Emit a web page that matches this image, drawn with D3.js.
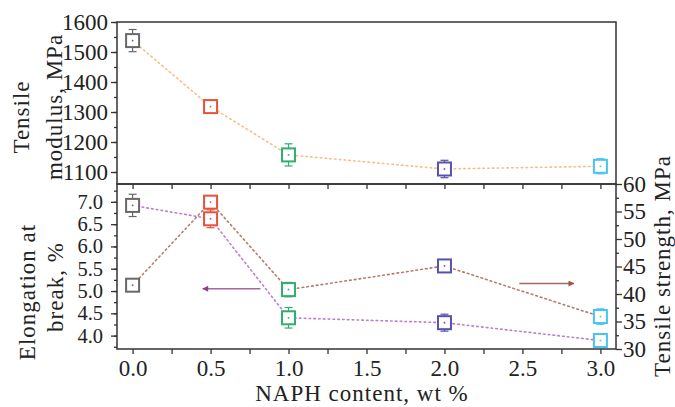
<!DOCTYPE html>
<html>
<head>
<meta charset="utf-8">
<script src="https://cdn.jsdelivr.net/npm/d3@7"></script>
<style>
  html, body { margin: 0; padding: 0; background: #fff; }
  svg { display: block; font-family: "Liberation Serif", "DejaVu Serif", serif; }
</style>
</head>
<body>
<svg id="chart" width="675" height="407"></svg>
<script>
// NAPH loading levels (wt %)
const naph = [0, 0.5, 1.0, 2.0, 3.0];
// Tensile modulus, MPa (top panel)
const modulus = [1538, 1318, 1157, 1110, 1119];
const modulusErr = [37, 8, 37, 29, 25];
// Elongation at break, % (bottom panel, left axis)
const elongation = [6.92, 6.62, 4.40, 4.29, 3.89];
const elongationErr = [0.25, 0.20, 0.23, 0.19, 0.05];
// Tensile strength, MPa (bottom panel, right axis)
const strength = [41.6, 56.7, 40.8, 45.1, 35.9];
const strengthErr = [0.5, 0.8, 1.3, 0.6, 1.4];
// Tick labels
const xTicks = [0, 0.5, 1.0, 1.5, 2.0, 2.5, 3.0];
const modulusTicks = [1100, 1200, 1300, 1400, 1500, 1600];
const elongationTicks = [4.0, 4.5, 5.0, 5.5, 6.0, 6.5, 7.0];
const strengthTicks = [30, 35, 40, 45, 50, 55, 60];
// Marker colour per NAPH level
const pointColors = ["#686868", "#e8513c", "#2fae6c", "#5652ae", "#46c4f2"];

const svg = d3.select("#chart");
const L = 117, R = 616, T = 22, MID = 184, B = 349;

const x = d3.scaleLinear().domain([-0.1, 3.1]).range([L, R]);
const yMod = d3.scaleLinear().domain([1060, 1600]).range([MID, T]);
const yEl = d3.scaleLinear().domain([3.7, 7.4]).range([B, MID]);
const yStr = d3.scaleLinear().domain([30, 60]).range([B, MID]);

const axisColor = "#333";

function styleAxis(g, size = 23) {
  g.select(".domain").remove();
  g.selectAll("line").attr("stroke", axisColor).attr("stroke-width", 1.3);
  g.selectAll("text").attr("fill", "#222").attr("font-size", size)
    .attr("font-family", "Liberation Serif, DejaVu Serif, serif");
}
function minorRange(a, b, step) {
  const out = [];
  for (let v = a; v <= b + 1e-9; v += step) out.push(+v.toFixed(4));
  return out;
}

// Minor ticks
svg.append("g").attr("transform", `translate(${L},0)`)
  .call(d3.axisLeft(yMod).tickValues(minorRange(1100, 1600, 50)).tickSize(3).tickFormat(""))
  .call(styleAxis);
svg.append("g").attr("transform", `translate(${L},0)`)
  .call(d3.axisLeft(yEl).tickValues(minorRange(3.75, 7.25, 0.25)).tickSize(3).tickFormat(""))
  .call(styleAxis);
svg.append("g").attr("transform", `translate(${R},0)`)
  .call(d3.axisRight(yStr).tickValues(minorRange(32.5, 57.5, 5)).tickSize(3).tickFormat(""))
  .call(styleAxis);

// Major ticks with labels
svg.append("g").attr("transform", `translate(${L},0)`)
  .call(d3.axisLeft(yMod).tickValues(modulusTicks).tickSize(6).tickPadding(3).tickFormat(d3.format("d")))
  .call(styleAxis);
svg.append("g").attr("transform", `translate(${L},0)`)
  .call(d3.axisLeft(yEl).tickValues(elongationTicks).tickSize(6).tickPadding(8).tickFormat(d3.format(".1f")))
  .call(g => styleAxis(g, 20.5));
svg.append("g").attr("transform", `translate(${R},0)`)
  .call(d3.axisRight(yStr).tickValues(strengthTicks).tickSize(6).tickPadding(1).tickFormat(d3.format("d")))
  .call(styleAxis);
svg.append("g").attr("transform", `translate(0,${B})`)
  .call(d3.axisBottom(x).tickValues(minorRange(0, 3, 0.25)).tickSize(5).tickPadding(6)
    .tickFormat(d => xTicks.some(t => Math.abs(t - d) < 1e-6) ? d3.format(".1f")(d) : ""))
  .call(styleAxis);
// ticks along the shared border, pointing into the lower panel
svg.append("g").attr("transform", `translate(0,${MID})`)
  .call(d3.axisBottom(x).tickValues(minorRange(0, 3, 0.25)).tickSize(5).tickFormat(""))
  .call(styleAxis);

// Panel frames
[[T, MID], [MID, B]].forEach(([y0, y1]) => {
  svg.append("rect").attr("x", L).attr("y", y0).attr("width", R - L).attr("height", y1 - y0)
    .attr("fill", "none").attr("stroke", axisColor).attr("stroke-width", 1.5);
});

// Dotted connecting lines
function dotted(yScale, vals, color) {
  svg.append("path")
    .datum(naph.map((d, i) => [d, vals[i]]))
    .attr("d", d3.line().x(d => x(d[0])).y(d => yScale(d[1])))
    .attr("fill", "none").attr("stroke", color).attr("stroke-width", 1.6)
    .attr("stroke-dasharray", "1.6,3.2").attr("stroke-linecap", "round");
}
dotted(yMod, modulus, "#f7bf8c");
dotted(yEl, elongation, "#c07ccc");
dotted(yStr, strength, "#b57a68");

// Error bars and open square markers
function markers(yScale, vals, errs) {
  const g = svg.append("g");
  naph.forEach((d, i) => {
    const cx = x(d), c = pointColors[i];
    const yt = yScale(vals[i] + errs[i]), yb = yScale(vals[i] - errs[i]);
    g.append("line").attr("x1", cx).attr("x2", cx).attr("y1", yt).attr("y2", yb)
      .attr("stroke", c).attr("stroke-width", 1.2);
    [yt, yb].forEach(yy => g.append("line").attr("x1", cx - 4).attr("x2", cx + 4)
      .attr("y1", yy).attr("y2", yy).attr("stroke", c).attr("stroke-width", 1.2));
    g.append("rect").attr("x", cx - 6.5).attr("y", yScale(vals[i]) - 6.5)
      .attr("width", 13).attr("height", 13)
      .attr("fill", "#fff").attr("stroke", c).attr("stroke-width", 2);
    g.append("rect").attr("x", cx - 0.8).attr("y", yScale(vals[i]) - 0.8)
      .attr("width", 1.6).attr("height", 1.6).attr("fill", c);
  });
}
markers(yMod, modulus, modulusErr);
markers(yEl, elongation, elongationErr);
markers(yStr, strength, strengthErr);

// Arrows pointing to the axis each series belongs to
const defs = svg.append("defs");
function arrowHead(id, color) {
  defs.append("marker").attr("id", id).attr("viewBox", "0 0 10 10")
    .attr("refX", 9).attr("refY", 5).attr("markerWidth", 10).attr("markerHeight", 6)
    .attr("markerUnits", "userSpaceOnUse").attr("orient", "auto")
    .append("path").attr("d", "M0,0 L10,5 L0,10 Z").attr("fill", color);
}
arrowHead("headEl", "#8d3f8d");
arrowHead("headStr", "#a0553f");
svg.append("line").attr("x1", x(0.82)).attr("x2", x(0.45))
  .attr("y1", yEl(5.05)).attr("y2", yEl(5.05))
  .attr("stroke", "#a267a8").attr("stroke-width", 1.6).attr("marker-end", "url(#headEl)");
svg.append("line").attr("x1", x(2.48)).attr("x2", x(2.83))
  .attr("y1", yStr(41.9)).attr("y2", yStr(41.9))
  .attr("stroke", "#a26a5c").attr("stroke-width", 1.6).attr("marker-end", "url(#headStr)");

// Axis titles
const titleSize = 23;
function vtext(cx, cy, txt) {
  svg.append("text").attr("transform", `translate(${cx},${cy}) rotate(-90)`)
    .attr("text-anchor", "middle").attr("font-size", titleSize).attr("fill", "#222")
    .attr("letter-spacing", 1).text(txt);
}
vtext(29, 117, "Tensile");
vtext(62, 107, "modulus, MPa");
vtext(35, 292, "Elongation at");
vtext(63, 287, "break, %");
vtext(670, 266, "Tensile strength, MPa");
svg.append("text").attr("x", 362).attr("y", 401).attr("text-anchor", "middle")
  .attr("font-size", titleSize).attr("letter-spacing", 1).attr("fill", "#222")
  .text("NAPH content, wt %");
</script>
</body>
</html>
